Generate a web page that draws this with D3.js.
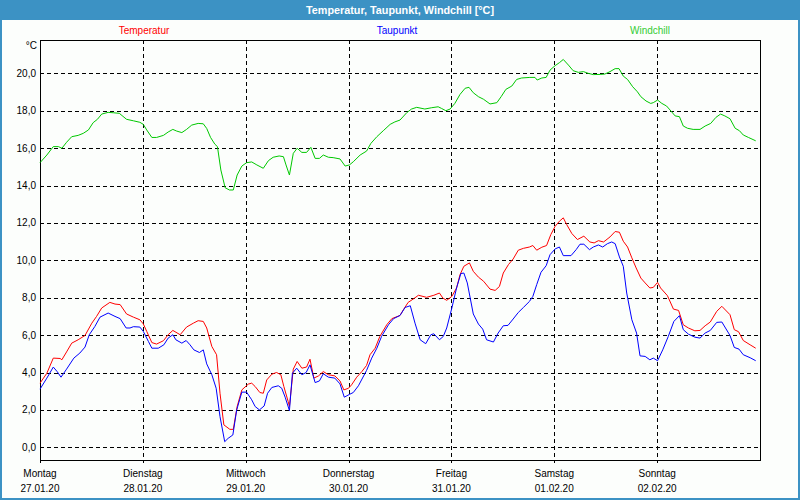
<!DOCTYPE html>
<html>
<head>
<meta charset="utf-8">
<script src="https://cdn.jsdelivr.net/npm/d3@7"></script>
<style>
body{margin:0;padding:0;background:#fcfefc;}
svg{display:block;}
text{font-family:"Liberation Sans",Arial,sans-serif;}
</style>
</head>
<body>
<svg id="chart" width="800" height="500"></svg>
<script>
// ---- data (hours from Monday 27.01.20 00:00) ----
const chartTitle = "Temperatur, Taupunkt, Windchill [°C]";
const seriesNames = ["Temperatur", "Taupunkt", "Windchill"];
const dayNames = ["Montag","Dienstag","Mittwoch","Donnerstag","Freitag","Samstag","Sonntag"];
const dayDates = ["27.01.20","28.01.20","29.01.20","30.01.20","31.01.20","01.02.20","02.02.20"];
const yTicks = [0,2,4,6,8,10,12,14,16,18,20];

const tempHours = [0,1.6,3.1,4.7,5.1,6.2,7.4,8.9,10.5,12.1,13.2,14.4,16.3,17.5,18.7,20.2,21.8,23.3,24.1,24.9,26.1,27.2,28.8,29.9,31,32.7,34.2,35.8,36.9,38.1,38.9,40.1,41.2,42,42.9,44.3,45.1,46,47.1,48.6,49.4,50.2,51.3,52.1,52.9,54.1,55.2,56.2,56.9,57.9,58.2,59.1,60,61.1,62.2,63,63.9,65,66.1,67.3,68.8,70,70.9,72,72.7,73.9,75.1,76.2,77,78.2,79.3,80.9,82.1,84,84.8,85.9,87.1,88.3,90.2,91.9,93.2,94,94.9,96.1,97.2,98,98.9,100.2,101.1,102.3,103.5,105,106.2,107.2,108.1,109.3,110.4,111.6,112.8,114.2,115,115.9,117.1,118.2,119.2,120.2,121.2,122.1,122.9,124.1,125.4,126.9,128.3,129.3,130.3,131.5,133,134.2,135.2,136.1,137.1,138.1,139.1,140.2,141.2,142.3,143.1,144.1,144.8,146.4,147.8,149,150.1,151.3,152.8,154,155.2,156.4,157.9,159.1,161,162,163,164.1,165.7,167];
const tempValues = [3.43,3.96,4.77,4.75,4.68,5.1,5.57,5.75,5.98,6.64,7.0,7.45,7.75,7.66,7.63,7.13,6.96,6.82,6.6,6.2,5.6,5.52,5.7,6.02,6.25,6.02,6.43,6.64,6.77,6.73,6.38,5.39,4.95,2.89,1.2,0.96,0.96,2.18,3.07,3.38,3.43,3.25,2.93,2.89,3.6,3.91,4.0,3.88,3.25,2.45,2.18,4.18,4.59,4.23,4.29,4.71,3.7,3.82,4.05,3.88,3.82,3.55,3.07,3.16,3.34,3.75,4.05,4.38,4.95,5.3,5.93,6.55,6.88,7.05,7.36,7.75,7.93,8.13,8.02,8.13,8.25,7.98,7.86,8.07,8.52,9.23,9.68,9.86,9.41,9.1,8.88,8.46,8.39,8.6,9.32,9.77,10.07,10.54,10.64,10.71,10.79,10.54,10.7,10.79,11.38,11.82,12.09,12.27,11.91,11.43,11.11,11.29,10.98,10.93,11.05,10.98,11.25,11.54,11.5,11.02,10.71,10.13,9.59,9.05,8.79,8.52,8.55,8.82,8.52,8.11,7.39,7.32,6.55,6.38,6.23,6.25,6.5,6.7,7.27,7.54,7.09,6.29,6.18,5.71,5.48,5.3];

const dewHours = [0,1.6,3.1,4,4.9,6.2,7.9,9.3,10.5,11.5,12.8,14,15.9,17.5,18.7,20.1,21,21.8,23.3,24.1,25.3,26.1,27.6,28.9,29.9,31,31.7,33.1,34.1,35,35.9,37.2,38.1,38.9,40.1,41.1,42,43.1,43.9,45,45.9,47.1,48.2,49.4,50.2,51.2,52.3,53.1,54.1,55.6,56.4,57.2,58.2,58.9,59.9,61.1,62.1,63,64.2,65.2,66.1,67.3,68.8,70,71,72.3,73.1,74.3,76.2,77.4,78.6,79.7,81.3,82.5,84,85.2,86.4,87.5,88.7,90,91.2,91.9,93.2,94.1,94.9,96.1,97.2,98.2,98.9,99.7,101.1,102.3,103.3,104.2,105.8,106.9,108.1,109.2,110.4,111.6,112.8,114.2,115,115.9,116.9,118.1,119,120.2,121.2,122.1,123.9,125.1,126,126.9,128.2,129.1,130.3,131.3,132.4,133.4,134.2,135.2,136.1,136.9,138.1,139.2,140,141.2,142.3,143.1,144.1,145.3,146.6,147.9,149.2,150.1,151.3,152.8,154,155.2,156.4,157.9,159.1,161,162,163.1,164.1,165.7,167];
const dewValues = [3.11,3.7,4.29,4.05,3.75,4.18,4.77,5.04,5.36,6.02,6.46,6.96,7.18,7.0,6.88,6.38,6.38,6.45,6.43,6.2,5.66,5.3,5.3,5.48,5.84,6.02,5.75,5.57,5.71,5.48,5.21,5.07,5.21,4.46,3.88,3.16,1.64,0.3,0.48,0.66,2.0,2.95,2.95,2.54,2.18,2.0,2.21,2.89,3.2,3.29,3.16,2.68,1.96,3.96,4.23,3.88,4.0,4.41,3.46,3.55,3.93,3.75,3.7,3.39,2.68,2.84,2.93,3.29,4.11,4.77,5.3,5.93,6.55,6.88,7.05,7.48,7.57,6.64,5.75,5.54,6.02,6.07,5.75,5.93,6.38,7.45,8.52,9.29,9.32,8.79,7.13,6.59,6.32,5.75,5.63,6.11,6.5,6.52,6.86,7.21,7.48,7.8,8.07,8.7,9.36,9.71,10.3,10.61,10.71,10.25,10.25,10.57,10.86,10.86,10.57,10.71,10.82,10.71,10.89,10.98,10.89,10.18,9.68,8.25,6.82,6.11,4.89,4.86,4.68,4.77,4.63,5.21,5.93,6.73,7.04,6.29,6.05,5.89,5.84,6.11,6.25,6.68,6.7,5.98,5.34,5.25,4.95,4.79,4.63];

const chillHours = [0,1.6,3.1,4.3,5.1,6.2,7.4,8.9,10.1,11.3,12.4,13.4,14.4,15.9,17.1,18.5,20.2,21.8,23.3,24.1,24.9,26.1,27.2,28.8,29.9,31,31.9,33.1,34.2,35.4,36.9,38.1,38.9,39.8,40.8,41.4,42.2,43.2,44.2,45.1,46,47.1,48.2,49.4,50.6,52.1,53.3,54.4,55.8,56.8,57.4,58.2,59.1,60,61.1,62.2,63.2,64.2,65.2,66.1,67.3,68.4,70,71.2,72.2,73.1,74.7,76.2,77.2,78.6,80.1,81.7,82.8,84,85.6,86.7,87.9,89.8,91.4,92.9,93.7,94.7,95.7,96.8,98,99.2,100.1,101.1,102.3,103.5,105,106.6,107.6,108.7,110.1,111.2,112.4,114.3,115.5,116,117.1,118.1,119,120.2,121.2,122.1,123.3,124.4,125.6,126.8,127.9,129.1,130.7,131.8,133,134.2,135.1,136.1,137.1,138.3,139.4,140.2,141.4,142.5,143.1,144.1,145.1,146.2,147,148.2,149.2,150.1,151.1,152.4,154,155.2,156.5,157.7,158.8,159.8,161,162.2,163.2,164.1,165.3,167];
const chillValues = [15.22,15.63,16.08,16.08,15.99,16.31,16.61,16.68,16.79,16.97,17.36,17.54,17.82,17.91,17.89,17.86,17.54,17.46,17.38,17.27,16.97,16.57,16.57,16.68,16.86,17.0,16.91,16.83,17.0,17.23,17.32,17.3,17.05,16.57,16.21,16.08,14.83,13.88,13.76,13.76,14.56,15.04,15.22,15.26,15.1,14.92,15.33,15.51,15.58,15.54,15.1,14.56,15.72,15.99,15.77,15.77,16.04,15.45,15.45,15.63,15.51,15.49,15.42,15.04,15.1,15.27,15.63,15.84,16.25,16.61,16.93,17.27,17.4,17.5,17.9,18.09,18.18,18.09,18.16,18.21,18.12,18.0,18.09,18.39,18.87,19.2,19.25,18.96,18.75,18.61,18.36,18.43,18.75,19.14,19.32,19.67,19.75,19.78,19.78,19.64,19.75,19.78,20.17,20.41,20.57,20.74,20.44,20.14,20.05,20.09,20.0,19.93,19.94,19.96,20.09,20.25,20.25,19.85,19.67,19.28,19.01,18.75,18.52,18.39,18.43,18.57,18.39,18.25,18.04,17.72,17.68,17.18,17.06,17.0,17.0,17.18,17.32,17.64,17.82,17.72,17.57,17.06,16.93,16.7,16.57,16.39];

// ---- layout ----
const W = 800, H = 500;
const plot = {left: 40, right: 760, top: 40, bottom: 460};
const colors = ["#ff0000", "#0000ff", "#00c800"];
const legendColors = ["#ff0000", "#0000ff", "#33cc33"];
const legendX = [144, 397, 650];

const svg = d3.select("#chart");
svg.append("rect").attr("x",0).attr("y",0).attr("width",W).attr("height",H).attr("fill","#fcfefc");

// title bar
svg.append("rect").attr("x",0).attr("y",0).attr("width",W).attr("height",20).attr("fill","#3c92c4");
svg.append("text").attr("x",400).attr("y",14).attr("text-anchor","middle")
  .attr("fill","#ffffff").attr("font-weight","bold").attr("font-size","11px")
  .attr("textLength",188).attr("lengthAdjust","spacingAndGlyphs")
  .text(chartTitle);
// outer frame
svg.append("rect").attr("x",1).attr("y",1).attr("width",W-2).attr("height",H-2)
  .attr("fill","none").attr("stroke","#3c92c4").attr("stroke-width",2);

// scales
const x = d3.scaleLinear().domain([0,168]).range([plot.left, plot.right]);
const y = d3.scaleLinear().domain([0,20]).range([447.3, 73.3]);

// grid
const g = svg.append("g");
g.selectAll("line.h").data(yTicks).join("line")
  .attr("x1",plot.left).attr("x2",plot.right)
  .attr("y1",d=>Math.round(y(d))+0.5).attr("y2",d=>Math.round(y(d))+0.5)
  .attr("stroke","#000").attr("stroke-dasharray","4,3").attr("shape-rendering","crispEdges");
g.selectAll("line.v").data([24,48,72,96,120,144]).join("line")
  .attr("x1",d=>Math.round(x(d))+0.5).attr("x2",d=>Math.round(x(d))+0.5)
  .attr("y1",plot.top).attr("y2",plot.bottom)
  .attr("stroke","#000").attr("stroke-dasharray","4,3").attr("shape-rendering","crispEdges");

// frame
svg.append("rect").attr("x",plot.left+0.5).attr("y",plot.top+0.5)
  .attr("width",plot.right-plot.left).attr("height",plot.bottom-plot.top)
  .attr("fill","none").attr("stroke","#000").attr("shape-rendering","crispEdges");

// x ticks below axis
const dayHours = dayNames.map((d,i)=>i*24);
svg.selectAll("line.xt").data(dayHours).join("line")
  .attr("x1",d=>Math.round(x(d))+0.5).attr("x2",d=>Math.round(x(d))+0.5)
  .attr("y1",plot.bottom).attr("y2",plot.bottom+3)
  .attr("stroke","#000").attr("shape-rendering","crispEdges");

// y labels
svg.selectAll("text.yl").data(yTicks).join("text")
  .attr("x",36).attr("y",d=>y(d)).attr("dy","0.35em").attr("text-anchor","end")
  .attr("font-size","10px").attr("fill","#000")
  .text(d=>d.toFixed(1).replace(".", ","));
svg.append("text").attr("x",37).attr("y",45).attr("dy","0.35em").attr("text-anchor","end")
  .attr("font-size","10px").text("°C");

// x labels
svg.selectAll("text.xd").data(dayNames).join("text")
  .attr("x",(d,i)=>x(dayHours[i])).attr("y",473).attr("dy","0.35em").attr("text-anchor","middle")
  .attr("font-size","10px").text(d=>d);
svg.selectAll("text.xdt").data(dayDates).join("text")
  .attr("x",(d,i)=>x(dayHours[i])).attr("y",488).attr("dy","0.35em").attr("text-anchor","middle")
  .attr("font-size","10px").text(d=>d);

// legend
svg.selectAll("text.lg").data(seriesNames).join("text")
  .attr("x",(d,i)=>legendX[i]).attr("y",30).attr("dy","0.35em").attr("text-anchor","middle")
  .attr("font-size","10px").attr("fill",(d,i)=>legendColors[i]).text(d=>d);

// lines
const series = [
  {h: tempHours, v: tempValues},
  {h: dewHours, v: dewValues},
  {h: chillHours, v: chillValues}
];
const line = d3.line().x(d=>x(d[0])).y(d=>y(d[1]));
series.forEach((s,i)=>{
  const pts = s.h.map((h,j)=>[h, s.v[j]]);
  svg.append("path").datum(pts).attr("d",line)
    .attr("fill","none").attr("stroke",colors[i]).attr("stroke-width",1);
});
</script>
</body>
</html>
